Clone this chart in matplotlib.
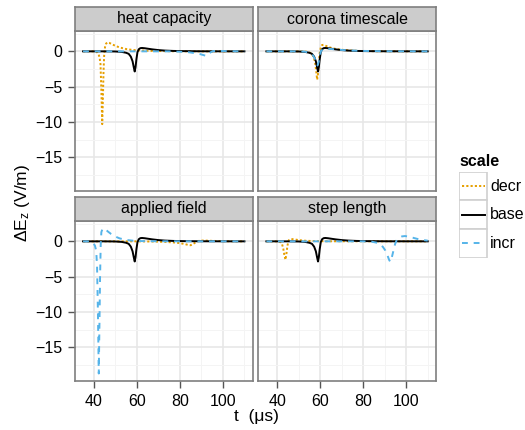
import matplotlib
matplotlib.use("Agg")
import matplotlib.pyplot as plt
from matplotlib.ticker import MultipleLocator
from matplotlib.patches import Rectangle
from matplotlib.lines import Line2D

plt.rcParams['font.family'] = ['Liberation Sans', 'DejaVu Sans']
plt.rcParams['mathtext.fontset'] = 'custom'
plt.rcParams['mathtext.rm'] = 'Liberation Sans'
plt.rcParams['mathtext.default'] = 'regular'

# ---------------- data ----------------
panels = ["heat capacity", "corona timescale", "applied field", "step length"]
scales = ["decr", "base", "incr"]

base_t = [35, 45, 50, 53, 55, 56.2, 57.2, 58.0, 58.6, 59.0, 59.4, 59.8, 60.3, 60.9,
          61.6, 62.4, 63.7, 65.2, 67.2, 70, 73, 77, 82, 90, 110]
base_v = [0, 0, -0.02, -0.08, -0.2, -0.35, -0.75, -1.4, -2.3, -2.85, -2.2, -1.1, -0.1, 0.3,
          0.45, 0.48, 0.44, 0.37, 0.28, 0.18, 0.11, 0.06, 0.03, 0.01, 0]

heat_decr_t = [35, 40, 41, 41.6, 42.2, 42.7, 43.1, 43.5, 43.9, 44.2, 44.5, 44.8, 45.2, 45.7,
               46.3, 47.2, 48.5, 50, 52, 55, 58, 62, 67, 75, 90, 110]
heat_decr_v = [0, 0, -0.05, -0.15, -0.4, -0.9, -1.8, -5.5, -10.3, -7, -3, -0.6, 0.6, 1.1,
               1.27, 1.2, 1.0, 0.78, 0.55, 0.33, 0.2, 0.12, 0.06, 0.02, 0, 0]
heat_incr_t = [35, 75, 80, 84, 87, 89.5, 91.2, 92.4, 93.3, 94.2, 95.2, 97, 100, 104, 110]
heat_incr_v = [0, 0, -0.05, -0.12, -0.25, -0.4, -0.55, -0.65, -0.45, -0.15, 0.02, 0.08, 0.05, 0.02, 0]

corona_decr_t = [35, 50, 54, 55.8, 57, 57.7, 58.2, 58.6, 59.0, 59.4, 59.8, 60.3, 60.9, 61.6,
                 62.5, 64, 66, 69, 73, 78, 85, 110]
corona_decr_v = [0, 0, -0.05, -0.25, -0.8, -1.7, -2.9, -4.0, -3.2, -1.6, -0.2, 0.55, 0.9, 0.92,
                 0.8, 0.6, 0.42, 0.26, 0.14, 0.06, 0.02, 0]
corona_incr_t = [35, 50, 53, 55, 56.5, 57.5, 58.2, 58.8, 59.3, 59.8, 60.4, 61.2, 62.5, 64.5,
                 67, 70, 74, 80, 90, 110]
corona_incr_v = [0, 0, -0.05, -0.2, -0.5, -1.0, -1.6, -2.0, -1.5, -0.6, 0.05, 0.28, 0.36, 0.35,
                 0.28, 0.2, 0.12, 0.06, 0.02, 0]

field_decr_t = [35, 60, 68, 73, 77, 80, 82.5, 84, 85, 86, 87.5, 89, 91, 94, 98, 103, 110]
field_decr_v = [0, 0, -0.03, -0.08, -0.15, -0.25, -0.4, -0.52, -0.55, -0.4, -0.1, 0.08, 0.12,
                0.08, 0.04, 0.01, 0]
field_incr_t = [35, 38, 39.5, 40.5, 41.1, 41.5, 41.9, 42.3, 42.6, 42.9, 43.2, 43.5, 44.0, 44.6,
                45.4, 46.5, 48, 50, 52, 55, 58, 62, 70, 110]
field_incr_v = [0, 0, -0.15, -0.6, -1.3, -3.5, -10, -18.7, -12, -5, -0.5, 1.3, 1.75, 1.85,
                1.7, 1.4, 1.05, 0.68, 0.42, 0.2, 0.1, 0.04, 0.01, 0]

step_decr_t = [35, 40.5, 41.5, 42.3, 42.9, 43.4, 43.9, 44.3, 44.8, 45.3, 45.9, 46.6, 48, 50,
               52.5, 56, 62, 110]
step_decr_v = [0, 0, -0.1, -0.4, -1.1, -2.0, -2.6, -1.8, -0.6, 0.1, 0.3, 0.33, 0.28, 0.18,
               0.1, 0.05, 0.01, 0]
step_incr_t = [35, 80, 84, 86.5, 88, 89.2, 90.3, 91.3, 92.1, 92.6, 93.2, 94.0, 94.8, 95.6,
               96.6, 98, 99.4, 101, 103, 105, 107.5, 110]
step_incr_v = [0, 0, -0.05, -0.2, -0.45, -0.8, -1.3, -2.0, -2.65, -2.9, -2.4, -1.4, -0.4, 0.2,
               0.5, 0.7, 0.75, 0.68, 0.52, 0.36, 0.2, 0.1]

x_ticks = [40, 60, 80, 100]
y_ticks = [0, -5, -10, -15]

series = {
    "heat capacity": {"decr": (heat_decr_t, heat_decr_v), "base": (base_t, base_v),
                      "incr": (heat_incr_t, heat_incr_v)},
    "corona timescale": {"decr": (corona_decr_t, corona_decr_v), "base": (base_t, base_v),
                         "incr": (corona_incr_t, corona_incr_v)},
    "applied field": {"decr": (field_decr_t, field_decr_v), "base": (base_t, base_v),
                      "incr": (field_incr_t, field_incr_v)},
    "step length": {"decr": (step_decr_t, step_decr_v), "base": (base_t, base_v),
                    "incr": (step_incr_t, step_incr_v)},
}

# ---------------- styles ----------------
styles = {
    "decr": dict(color="#E69F00", linestyle=(0, (1.1, 1.1)), lw=1.4),
    "base": dict(color="black", linestyle="-", lw=1.4),
    "incr": dict(color="#56B4E9", linestyle=(0, (3, 3)), lw=1.4),
}

W, H = 525, 430
fig = plt.figure(figsize=(W / 100, H / 100), dpi=100)

border = "#7F7F7F"
fs = 11.5

# panel pixel geometry
col_left = [75, 258.3]
panel_w = 177.5
row_top = [31, 221]
panel_h = 160
strip_h = 24

def fx(px):
    return px / W

def fy(py):
    return 1 - py / H

for i, name in enumerate(panels):
    r, c = divmod(i, 2)
    l = col_left[c]
    t = row_top[r]
    ax = fig.add_axes([fx(l), fy(t + panel_h), panel_w / W, panel_h / H])
    ax.set_xlim(31.25, 113.75)
    ax.set_ylim(-19.76, 2.88)
    ax.xaxis.set_major_locator(MultipleLocator(20))
    ax.xaxis.set_minor_locator(MultipleLocator(10))
    ax.yaxis.set_major_locator(MultipleLocator(5))
    ax.yaxis.set_minor_locator(MultipleLocator(2.5))
    ax.set_xticks(x_ticks)
    ax.set_yticks(y_ticks)
    ax.grid(which="major", color="#E6E6E6", lw=1.1, zorder=0)
    ax.grid(which="minor", color="#F4F4F4", lw=0.7, zorder=0)
    ax.set_axisbelow(True)
    for sp in ax.spines.values():
        sp.set_color(border)
        sp.set_linewidth(1.2)
    ax.tick_params(which="minor", length=0)
    ax.tick_params(which="major", length=5, width=1.0, color="#555555",
                   labelsize=fs, labelcolor="black")
    ax.tick_params(axis="x", pad=4)
    ax.tick_params(axis="y", pad=4)
    if r == 0:
        ax.tick_params(axis="x", length=0, labelbottom=False)
    if c == 1:
        ax.tick_params(axis="y", length=0, labelleft=False)
    if c == 0:
        ax.set_yticklabels(["0", "\u22125", "\u221210", "\u221215"])
    for s in scales:
        tt, vv = series[name][s]
        st = styles[s]
        ax.plot(tt, vv, color=st["color"], linestyle=st["linestyle"], lw=st["lw"],
                dash_capstyle="butt", solid_joinstyle="round", zorder=3)
    # strip
    sax = fig.add_axes([fx(l), fy(t), panel_w / W, strip_h / H])
    sax.set_facecolor("#CCCCCC")
    sax.set_xticks([])
    sax.set_yticks([])
    for sp in sax.spines.values():
        sp.set_color(border)
        sp.set_linewidth(1.2)
    sax.text(0.5, 0.5, name, ha="center", va="center", fontsize=fs,
             transform=sax.transAxes)

# axis titles
fig.text(fx(256), fy(417), "t  (\u03bcs)", ha="center", va="center", fontsize=12.5)
fig.text(fx(22), fy(203), "\u0394E$_z$ (V/m)", ha="center", va="center",
         rotation=90, fontsize=12.5)

# legend
fig.text(fx(459), fy(166.5), "scale", ha="left", va="baseline", fontsize=fs,
         fontweight="bold")
key_l, key_w, key_top, key_h = 459, 28, 171.7, 28.7
lax = fig.add_axes([fx(key_l), fy(key_top + 3 * key_h), (W - key_l) / W, 3 * key_h / H])
lax.set_xlim(0, W - key_l)
lax.set_ylim(3 * key_h, 0)
lax.axis("off")
for k, s in enumerate(scales):
    y0 = k * key_h
    lax.add_patch(Rectangle((0, y0), key_w, key_h, facecolor="white",
                            edgecolor="#D0D0D0", lw=1.2))
    st = styles[s]
    lax.add_line(Line2D([2.5, key_w - 2.5], [y0 + key_h / 2] * 2, color=st["color"],
                        linestyle=st["linestyle"], lw=st["lw"], dash_capstyle="butt"))
    lax.text(key_w + 3, y0 + key_h / 2, s, ha="left", va="center", fontsize=fs)

fig.savefig("out.png", dpi=100)
